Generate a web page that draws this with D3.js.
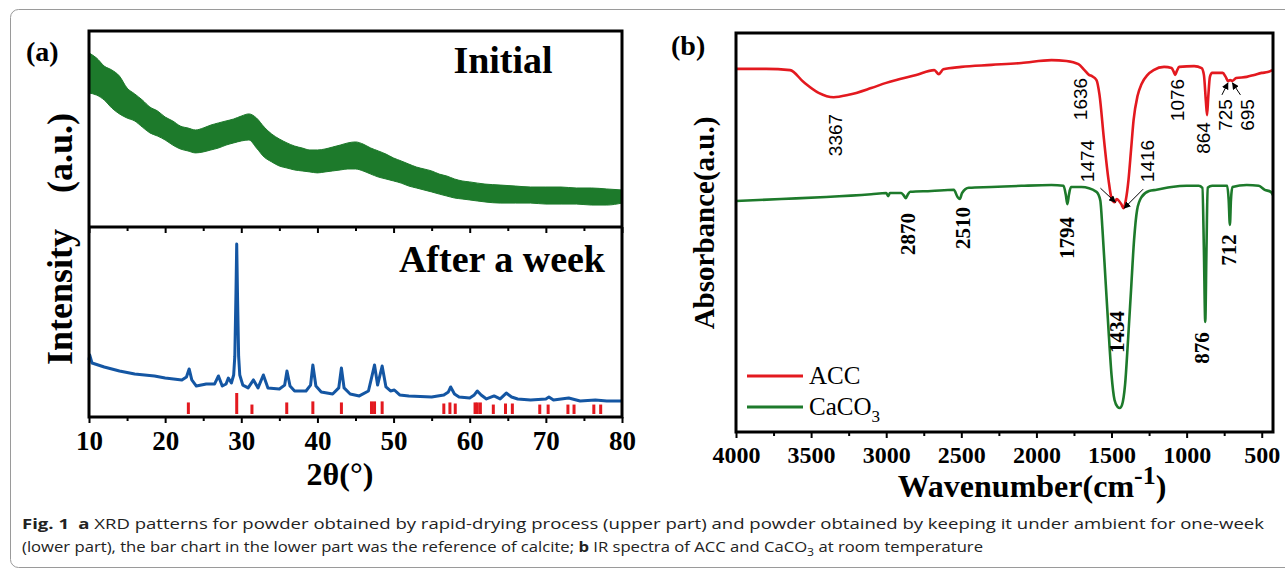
<!DOCTYPE html>
<html>
<head>
<meta charset="utf-8">
<script src="https://cdn.jsdelivr.net/npm/d3@7"></script>
<style>
  body { margin: 0; background: #fff; }
  svg { display: block; }
</style>
</head>
<body>
<svg width="1285" height="569"></svg>
<script>
// ---------- (a) XRD, initial sample: noisy band, upper / lower envelope ----------
var initTheta = [10,11,12,13,14,15,16,17,18,19,20,21,22,23,24,25,26,27,28,29,30,31,32,33,34,35,36,37,38,39,40,
  41,42,43,44,45,46,47,48,49,50,51,52,53,54,55,56,57,58,59,60,62,64,66,68,70,72,74,76,78,80];
var initUpper = [88.8,86.2,82.1,80.1,77.0,70.9,67.9,64.8,61.2,59.2,56.1,54.1,51.5,50.5,49.5,50.5,52.0,53.1,54.1,55.1,56.6,
  57.7,55.6,51.0,47.4,44.9,42.9,41.3,40.3,39.3,39.3,39.8,40.8,41.8,42.9,43.4,42.3,40.3,38.8,37.2,35.2,
  33.7,32.1,30.6,29.6,28.6,27.0,26.0,24.5,23.5,23.0,21.9,21.4,20.9,20.4,20.4,20.4,19.9,19.9,19.4,18.9];
var initLower = [68.4,67.3,64.8,60.7,57.7,55.6,54.1,51.0,48.0,46.4,44.4,41.8,39.8,38.8,37.8,38.3,39.3,40.3,41.8,42.9,43.9,
  44.4,40.3,35.7,33.2,31.1,30.1,29.1,28.6,28.1,27.6,28.1,28.6,29.1,29.6,29.6,28.6,27.0,25.5,24.5,23.5,
  22.4,20.9,19.9,18.9,17.9,16.8,15.8,14.8,14.3,13.8,12.8,12.2,12.2,12.2,11.7,11.7,11.7,11.2,11.2,12.2];

// ---------- (a) XRD, after a week ----------
var weekTheta = [10.0,10.1,10.4,12,14,16,18.6,20,22.2,22.8,23.15,23.5,24.1,25.4,26.5,27.0,27.5,28.0,28.3,28.7,
  29.0,29.15,29.3,29.4,29.5,29.65,29.8,30.2,30.9,31.6,32.2,32.9,33.5,35.0,35.7,36.0,36.4,37.0,38.5,39.1,39.4,39.8,
  40.5,42,42.8,43.15,43.5,44.3,45.5,46.7,47.1,47.5,47.9,48.5,49.0,49.6,50.1,50.8,52,55,56.6,57.2,
  57.5,58.0,58.6,60,60.6,61.0,61.5,62.2,63.2,64.0,64.8,65.5,66.3,68,70.0,70.4,71,73,74.5,76.5,78,80];
var weekValue = [30.0,32.6,28.4,26.3,24.2,22.6,21.6,20.5,19.5,21.1,25.3,19.5,16.3,17.4,17.4,21.6,16.3,17.4,20.5,17.9,
  22.1,32.0,65.0,91.0,65.0,32.0,22.1,16.8,15.3,19.5,15.3,22.1,15.3,14.7,16.8,24.2,16.3,13.7,13.7,16.8,27.4,16.3,
  13.2,12.1,15.3,25.8,15.3,12.1,11.1,13.7,20.5,27.4,16.8,26.8,15.8,13.7,14.2,11.6,11.1,10.5,11.6,13.2,
  15.8,12.1,10.5,10.0,11.6,13.7,11.6,9.5,11.1,9.5,12.6,10.5,9.5,8.9,9.5,10.5,8.9,10.0,8.4,8.9,8.4,8.4];

// calcite reference bars
var calciteTheta = [23.05,29.4,31.4,35.97,39.4,43.15,47.1,47.5,48.5,56.6,57.4,58.1,60.7,61.0,61.4,63.1,64.7,65.6,69.2,70.3,72.9,73.7,76.3,77.2];
var calciteInt   = [55,100,45,55,60,55,60,60,60,50,55,50,55,55,55,45,50,50,45,45,45,45,45,45];

var xrdMajor = [10,20,30,40,50,60,70,80];
var xrdMinor = [15,25,35,45,55,65,75];

// ---------- (b) IR ----------
var accWn  = [4000,3800,3640,3550,3450,3350,3250,3100,3000,2800,2680,2650,2620,2500,2300,2100,1900,1800,1720,1680,1650,1630,
  1600,1580,1550,1520,1500,1480,1465,1450,1435,1420,1405,1387,1370,1353,1327,1300,1260,1220,1150,1100,1085,1076,1065,1050,
  950,900,885,872,864,856,845,830,760,740,725,710,695,670,600,550,500,460,430];
var accAbs = [91.0,91.0,90.7,87.7,85.0,83.9,84.5,86.2,87.5,89.5,90.7,89.7,90.9,91.5,92.0,92.5,93.2,93.0,92.2,90.7,89.5,89.2,
  88.2,84.5,73.2,63.2,58.6,57.6,58.4,57.9,57.1,56.1,58.1,63.2,70.7,78.2,84.2,87.2,89.5,90.7,91.5,91.2,90.2,89.5,90.5,91.5,
  91.7,91.2,89.5,83.0,79.4,84.0,89.0,90.0,90.0,89.0,88.0,88.2,88.0,88.7,89.0,89.5,90.0,90.2,90.7];

var cacoWn  = [4000,3700,3400,3100,3000,2987,2975,2900,2880,2870,2855,2840,2700,2550,2525,2510,2495,2450,2300,2100,1900,1820,
  1805,1794,1783,1770,1700,1600,1575,1560,1540,1520,1500,1480,1460,1445,1430,1410,1390,1370,1350,1330,1300,1250,1200,1100,
  1000,920,895,885,876,868,860,830,730,720,712,705,695,600,520,480,440,425];
var cacoAbs = [57.9,58.4,58.9,59.6,59.9,59.1,59.9,59.9,59.1,58.6,59.6,60.2,60.4,60.7,58.9,58.4,59.9,61.2,61.4,61.7,61.9,61.7,
  59.6,57.1,59.6,61.4,61.4,60.2,58.1,50.6,38.1,25.6,14.3,8.0,6.3,6.0,6.8,11.8,23.1,35.6,48.1,55.6,58.9,60.4,60.7,61.4,
  61.7,61.7,61.2,45.6,27.6,45.6,61.2,61.7,61.7,58.1,51.9,58.1,61.4,61.9,61.7,60.7,60.2,59.4];

var accPeaks  = [3367,1636,1474,1416,1076,864,725,695];
var cacoPeaks = [2870,2510,1794,1434,876,712];

var irMajor = [4000,3500,3000,2500,2000,1500,1000,500];
var irMinor = [3750,3250,2750,2250,1750,1250,750];

// ---------- setup ----------
var svg = d3.select("svg");
var serif = "'Liberation Serif','Times New Roman',serif";
var sans = "'Liberation Sans',Arial,sans-serif";
var red = "#e3191f", green = "#1d7a2b", blue = "#1456a3";

svg.append("rect")
  .attr("x", 10.5).attr("y", 9.5).attr("width", 1290).attr("height", 558).attr("rx", 8)
  .attr("fill", "none").attr("stroke", "#9a9a9a").attr("stroke-width", 1);

var xA = d3.scaleLinear().domain([10, 80]).range([89, 622]);
var yTop = d3.scaleLinear().domain([0, 100]).range([227, 31]);
var yBot = d3.scaleLinear().domain([0, 100]).range([417, 227]);
var yRef = d3.scaleLinear().domain([0, 100]).range([414, 393]);

var xB = d3.scaleLinear().domain([4000, 425]).range([736, 1273]);
var yB = d3.scaleLinear().domain([0, 100]).range([432, 33]);

function styleAxis(g, size) {
  g.select(".domain").remove();
  g.selectAll(".tick line").attr("stroke", "#000").attr("stroke-width", 2);
  g.selectAll(".tick text")
    .attr("font-family", serif).attr("font-weight", "bold")
    .attr("font-size", size).attr("fill", "#000");
}

function drawAxis(scale, major, minor, y, size, withLabels) {
  var g = svg.append("g").attr("transform", "translate(0," + y + ")")
    .call(d3.axisBottom(scale).tickValues(major).tickSize(6).tickPadding(8)
      .tickFormat(withLabels ? d3.format("d") : ""));
  styleAxis(g, size);
  var m = svg.append("g").attr("transform", "translate(0," + y + ")")
    .call(d3.axisBottom(scale).tickValues(minor).tickSize(4).tickFormat(""));
  styleAxis(m, size);
}

// ---------- panel (a) ----------
var band = d3.area()
  .x(function(d, i) { return xA(initTheta[i]); })
  .y0(function(d, i) { return yTop(initLower[i]); })
  .y1(function(d, i) { return yTop(initUpper[i]); })
  .curve(d3.curveMonotoneX);

svg.append("path")
  .datum(initTheta)
  .attr("d", band)
  .attr("fill", green)
  .attr("stroke", green)
  .attr("stroke-width", 1);

var weekLine = d3.line()
  .x(function(d, i) { return xA(weekTheta[i]); })
  .y(function(d) { return yBot(d); });

svg.append("path")
  .datum(weekValue)
  .attr("d", weekLine)
  .attr("fill", "none")
  .attr("stroke", blue)
  .attr("stroke-width", 3)
  .attr("stroke-linejoin", "round");

svg.selectAll(".refbar")
  .data(calciteTheta)
  .enter().append("rect")
  .attr("class", "refbar")
  .attr("x", function(d) { return xA(d) - 1.5; })
  .attr("y", function(d, i) { return yRef(calciteInt[i]); })
  .attr("width", 3)
  .attr("height", function(d, i) { return yRef(0) - yRef(calciteInt[i]); })
  .attr("fill", red);

drawAxis(xA, xrdMajor, xrdMinor, 227, 27, false);
drawAxis(xA, xrdMajor, xrdMinor, 417, 27, true);

svg.append("rect")
  .attr("x", 89).attr("y", 31).attr("width", 533).attr("height", 386)
  .attr("fill", "none").attr("stroke", "#000").attr("stroke-width", 3);
svg.append("line")
  .attr("x1", 89).attr("x2", 622).attr("y1", 227).attr("y2", 227)
  .attr("stroke", "#000").attr("stroke-width", 3);

svg.append("text").attr("x", 26).attr("y", 61).text("(a)")
  .attr("font-family", serif).attr("font-weight", "bold").attr("font-size", 28);
svg.append("text").attr("x", 503).attr("y", 73).attr("text-anchor", "middle").text("Initial")
  .attr("font-family", serif).attr("font-weight", "bold").attr("font-size", 38);
svg.append("text").attr("x", 605).attr("y", 272).attr("text-anchor", "end").text("After a week")
  .attr("font-family", serif).attr("font-weight", "bold").attr("font-size", 38);
svg.append("text")
  .attr("transform", "translate(72,239) rotate(-90)")
  .attr("text-anchor", "middle")
  .attr("font-family", serif).attr("font-weight", "bold").attr("font-size", 36)
  .text("Intensity\u2003(a.u.)");
svg.append("text").attr("x", 340).attr("y", 485).attr("text-anchor", "middle")
  .attr("font-family", serif).attr("font-weight", "bold").attr("font-size", 32)
  .text("2\u03b8(\u00b0)");

// ---------- panel (b) ----------
var irLine = d3.line()
  .x(function(d) { return xB(d[0]); })
  .y(function(d) { return yB(d[1]); })
  .curve(d3.curveMonotoneX);

svg.append("path")
  .datum(d3.zip(accWn, accAbs))
  .attr("d", irLine)
  .attr("fill", "none").attr("stroke", red).attr("stroke-width", 2.6);

svg.append("path")
  .datum(d3.zip(cacoWn, cacoAbs))
  .attr("d", irLine)
  .attr("fill", "none").attr("stroke", green).attr("stroke-width", 2.6);

drawAxis(xB, irMajor, irMinor, 432, 24, true);

svg.append("rect")
  .attr("x", 736).attr("y", 33).attr("width", 537).attr("height", 399)
  .attr("fill", "none").attr("stroke", "#000").attr("stroke-width", 3);

// peak labels: horizontal offset from the peak and vertical centre
var accLayout = {3367: [4, 135], 1636: [-11, 99], 1474: [-28, 161], 1416: [23, 161],
  1076: [2, 100], 864: [-4, 138], 725: [-2, 115], 695: [15, 115]};
var cacoLayout = {2870: [2, 234], 2510: [3, 228], 1794: [0, 238], 1434: [-4, 332], 876: [-3, 348], 712: [-1, 250]};

svg.selectAll(".acclab")
  .data(accPeaks)
  .enter().append("text")
  .attr("class", "acclab")
  .attr("transform", function(d) {
    return "translate(" + (xB(d) + accLayout[d][0]) + "," + accLayout[d][1] + ") rotate(-90)";
  })
  .attr("text-anchor", "middle").attr("dominant-baseline", "central")
  .attr("font-family", sans).attr("font-size", 19)
  .text(function(d) { return d; });

svg.selectAll(".cacolab")
  .data(cacoPeaks)
  .enter().append("text")
  .attr("class", "cacolab")
  .attr("transform", function(d) {
    return "translate(" + (xB(d) + cacoLayout[d][0]) + "," + cacoLayout[d][1] + ") rotate(-90)";
  })
  .attr("text-anchor", "middle").attr("dominant-baseline", "central")
  .attr("font-family", serif).attr("font-weight", "bold").attr("font-size", 21)
  .text(function(d) { return d; });

// arrows to the shoulder peaks of ACC
svg.append("defs").append("marker")
  .attr("id", "head").attr("viewBox", "0 0 10 10").attr("refX", 9).attr("refY", 5)
  .attr("markerWidth", 7).attr("markerHeight", 7).attr("orient", "auto")
  .append("path").attr("d", "M0,0L10,5L0,10z").attr("fill", "#000");

function accAt(wn) {
  var i = d3.minIndex(accWn, function(w) { return Math.abs(w - wn); });
  return accAbs[i];
}
var arrowTail = {1474: [-15, -14, 0], 1416: [19, -19, 0], 725: [-6, 12, 2], 695: [8, 12, 2]};
[1474, 1416, 725, 695].forEach(function(wn) {
  var tx = xB(wn), ty = yB(accAt(wn)) + arrowTail[wn][2];
  svg.append("line")
    .attr("x1", tx + arrowTail[wn][0]).attr("y1", ty + arrowTail[wn][1])
    .attr("x2", tx).attr("y2", ty)
    .attr("stroke", "#000").attr("stroke-width", 1)
    .attr("marker-end", "url(#head)");
});

// legend
var legend = [["ACC", red], ["CaCO", green]];
legend.forEach(function(l, i) {
  var y = 376 + i * 31;
  svg.append("line").attr("x1", 747).attr("x2", 803).attr("y1", y).attr("y2", y)
    .attr("stroke", l[1]).attr("stroke-width", 3);
  var t = svg.append("text").attr("x", 809).attr("y", y + 8)
    .attr("font-family", serif).attr("font-size", 25).text(l[0]);
  if (i === 1) t.append("tspan").attr("dy", 7).attr("font-size", 17).text("3");
});

svg.append("text").attr("x", 671).attr("y", 55).text("(b)")
  .attr("font-family", serif).attr("font-weight", "bold").attr("font-size", 28);
svg.append("text")
  .attr("transform", "translate(714,223) rotate(-90)")
  .attr("text-anchor", "middle")
  .attr("font-family", serif).attr("font-weight", "bold").attr("font-size", 29)
  .text("Absorbance(a.u.)");

var xl = svg.append("text").attr("x", 1032).attr("y", 497).attr("text-anchor", "middle")
  .attr("font-family", serif).attr("font-weight", "bold").attr("font-size", 32);
xl.append("tspan").text("Wavenumber(cm");
xl.append("tspan").attr("dy", -13).attr("font-size", 26).text("-1");
xl.append("tspan").attr("dy", 13).text(")");

// ---------- caption ----------
var capFont = "'Open Sans','Noto Sans',sans-serif";
var c1 = svg.append("text").attr("x", 22).attr("y", 529)
  .attr("font-family", capFont).attr("font-size", 15).attr("fill", "#222")
  .attr("textLength", 1242).attr("lengthAdjust", "spacingAndGlyphs");
c1.append("tspan").attr("font-weight", "bold").text("Fig. 1");
c1.append("tspan").attr("font-weight", "bold").text("\u2002a");
c1.append("tspan").text(" XRD patterns for powder obtained by rapid-drying process (upper part) and powder obtained by keeping it under ambient for one-week");

var c2 = svg.append("text").attr("x", 22).attr("y", 552)
  .attr("font-family", capFont).attr("font-size", 15).attr("fill", "#222")
  .attr("textLength", 961).attr("lengthAdjust", "spacingAndGlyphs");
c2.append("tspan").text("(lower part), the bar chart in the lower part was the reference of calcite; ");
c2.append("tspan").attr("font-weight", "bold").text("b");
c2.append("tspan").text(" IR spectra of ACC and CaCO");
c2.append("tspan").attr("dy", 4).attr("font-size", 11).text("3");
c2.append("tspan").attr("dy", -4).text(" at room temperature");
</script>
</body>
</html>
